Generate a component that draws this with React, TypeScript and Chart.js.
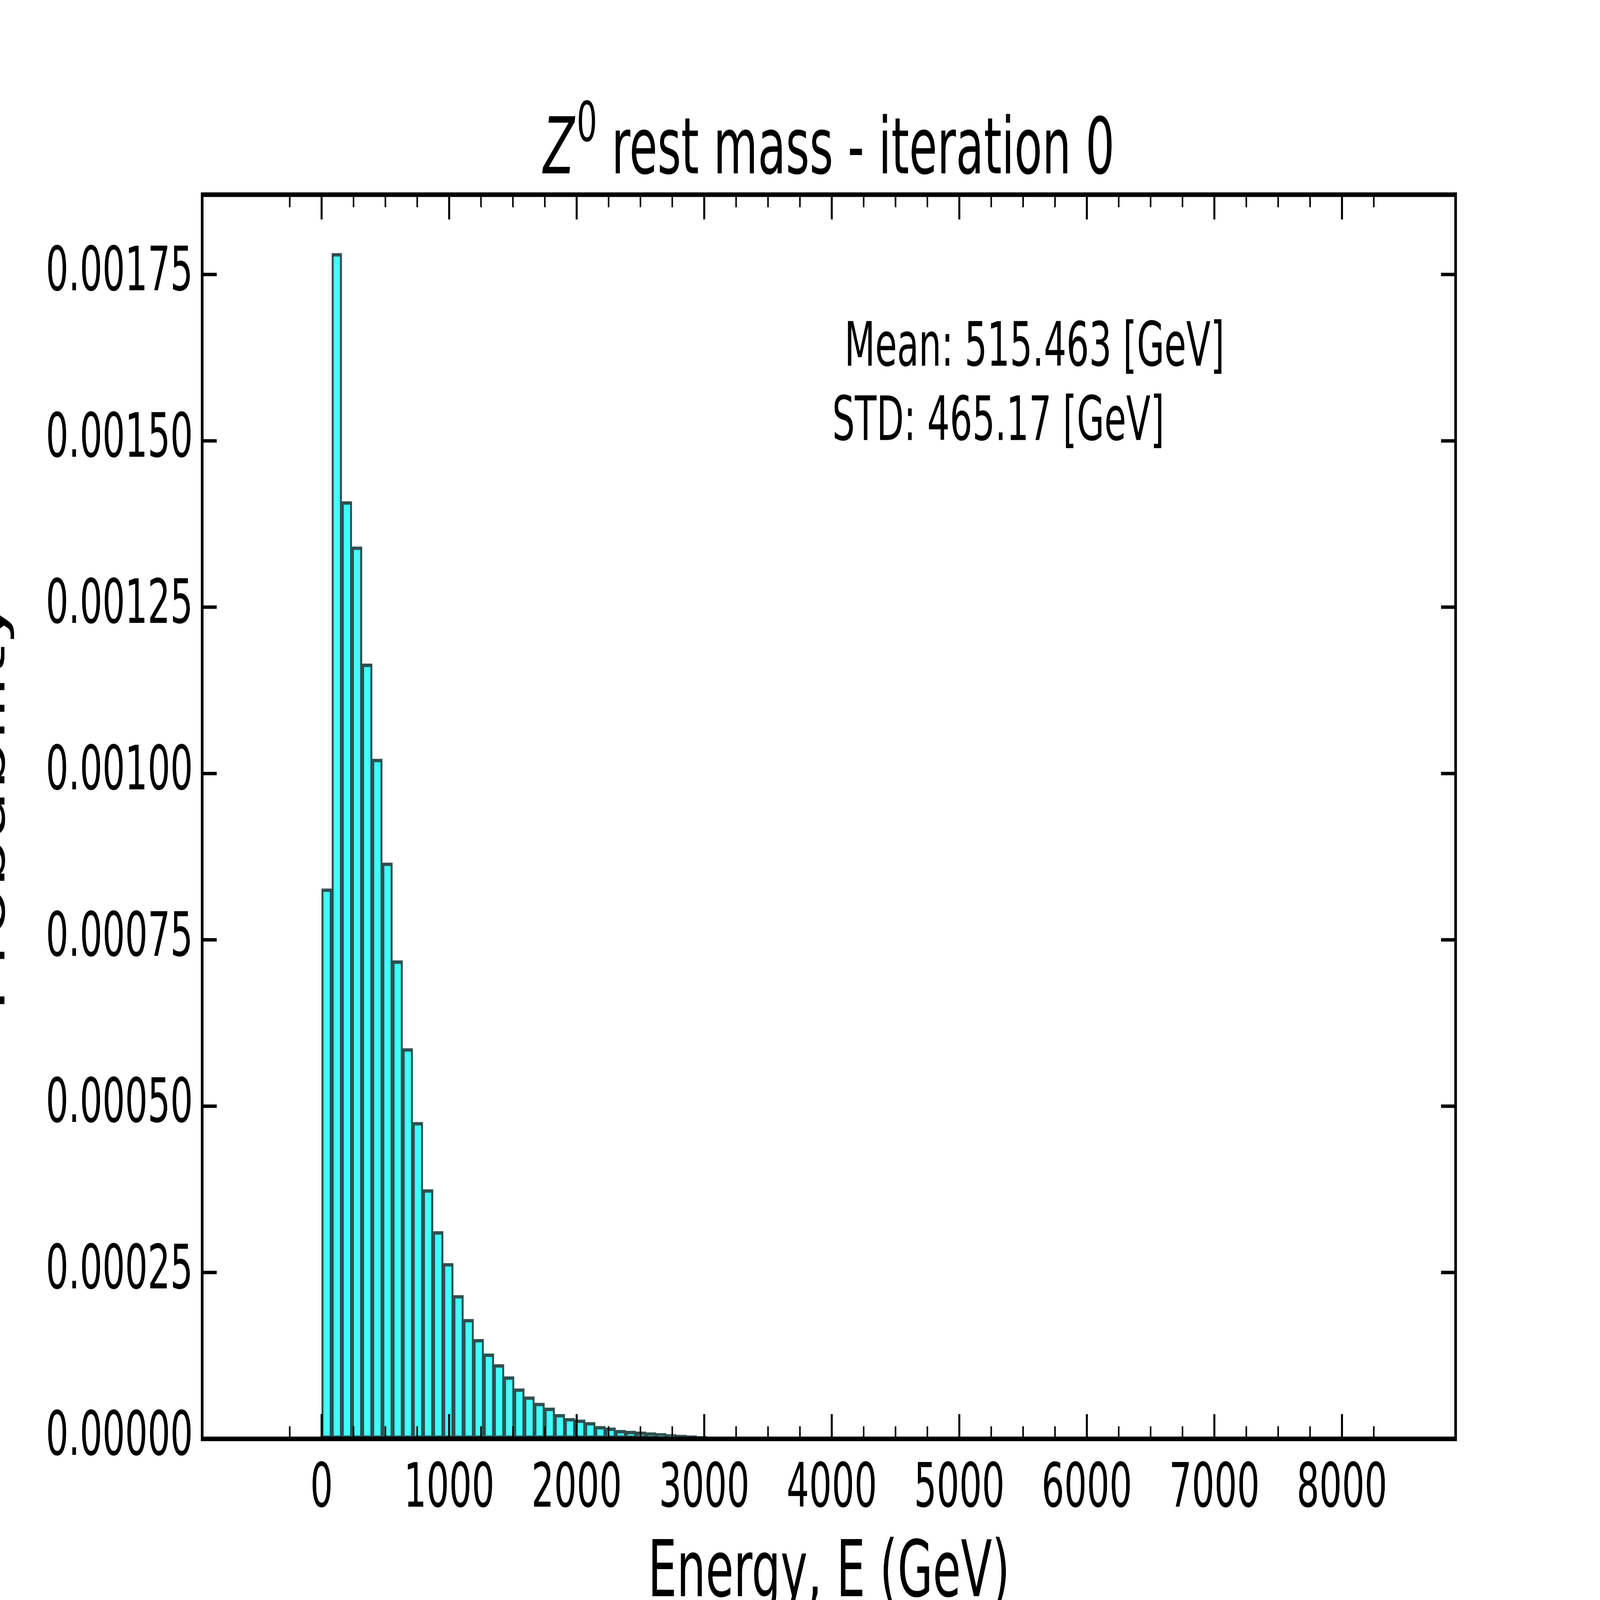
import { useEffect, useRef } from "react";
import { Chart, registerables } from "chart.js";

Chart.register(...registerables);

const binWidth = 79.5;
const probabilities = [
  0.000827, 0.001782, 0.001409, 0.001341, 0.001165, 0.001022, 0.000866, 0.000719,
  0.000587, 0.000476, 0.000375, 0.000312, 0.000264, 0.000216, 0.00018, 0.00015,
  0.000128, 0.000112, 0.0000937, 0.0000757, 0.0000636, 0.000054, 0.0000468, 0.0000372,
  0.0000312, 0.0000288, 0.0000252, 0.0000192, 0.0000168, 0.0000132, 0.000012, 0.0000108,
  0.0000096, 0.0000084, 0.000007, 0.000006, 0.000005, 0.000004, 0.000003, 0.000002,
  0.000002, 0.000001, 0.000001, 0.000001,
];
const xTicks = [0, 1000, 2000, 3000, 4000, 5000, 6000, 7000, 8000];
const xMinorTicks = [-250, 250, 500, 750, 1250, 1500, 1750, 2250, 2500, 2750, 3250, 3500, 3750, 4250, 4500, 4750, 5250, 5500, 5750, 6250, 6500, 6750, 7250, 7500, 7750, 8250];
const yTicks = [0, 0.00025, 0.0005, 0.00075, 0.001, 0.00125, 0.0015, 0.00175];
const statLines = ["Mean: 515.463 [GeV]", "STD: 465.17 [GeV]"];

const FONT = "'DejaVu Sans', sans-serif";

const framePlugin = {
  id: "frame",
  afterDraw(chart: any) {
    const { ctx, chartArea: a, scales } = chart;
    const x = scales.x;
    const y = scales.y;
    ctx.save();
    ctx.strokeStyle = "#000";
    // ticks pointing inward on all sides
    const tick = (len: number, w: number, vals: number[], axis: "x" | "y") => {
      ctx.lineWidth = w;
      ctx.beginPath();
      vals.forEach((v) => {
        if (axis === "x") {
          const p = x.getPixelForValue(v);
          ctx.moveTo(p, a.bottom);
          ctx.lineTo(p, a.bottom - len);
          ctx.moveTo(p, a.top);
          ctx.lineTo(p, a.top + len);
        } else {
          const p = y.getPixelForValue(v);
          ctx.moveTo(a.left, p);
          ctx.lineTo(a.left + len, p);
          ctx.moveTo(a.right, p);
          ctx.lineTo(a.right - len, p);
        }
      });
      ctx.stroke();
    };
    tick(65, 9, xTicks, "x");
    tick(33, 7, xMinorTicks, "x");
    tick(65, 9, yTicks, "y");
    ctx.lineWidth = 12;
    ctx.strokeRect(a.left, a.top, a.right - a.left, a.bottom - a.top);

    ctx.fillStyle = "#000";
    ctx.textBaseline = "alphabetic";
    // title
    ctx.textAlign = "left";
    const rest = " rest mass - iteration 0";
    ctx.font = `205px ${FONT}`;
    const wRest = ctx.measureText(rest).width;
    ctx.font = `italic 205px ${FONT}`;
    const wZ = ctx.measureText("Z").width;
    ctx.font = `145px ${FONT}`;
    const wSup = ctx.measureText("0").width;
    const total = wZ + 10 + wSup + wRest;
    let tx = (a.left + a.right) / 2 - total / 2;
    const ty = 455;
    ctx.font = `italic 205px ${FONT}`;
    ctx.fillText("Z", tx, ty);
    tx += wZ + 10;
    ctx.font = `145px ${FONT}`;
    ctx.fillText("0", tx, ty - 85);
    tx += wSup;
    ctx.font = `205px ${FONT}`;
    ctx.fillText(rest, tx, ty);

    // stats
    ctx.font = `160px ${FONT}`;
    ctx.fillText(statLines[0], 3800, 960);
    ctx.fillText(statLines[1], 3745, 1155);

    // x label
    ctx.textAlign = "center";
    ctx.font = `205px ${FONT}`;
    ctx.fillText("Energy, E (GeV)", (a.left + a.right) / 2, 4190);

    // y label (partly off the left edge)
    ctx.translate(20, (a.top + a.bottom) / 2 - 30);
    ctx.rotate(-Math.PI / 2);
    ctx.fillText("Probability", 0, 0);
    ctx.restore();
  },
};

export default function App() {
  const canvasRef = useRef<HTMLCanvasElement | null>(null);

  useEffect(() => {
    document.body.style.margin = "0";
    document.body.style.overflow = "hidden";
    if (!canvasRef.current) return;
    const chart = new Chart(canvasRef.current, {
      type: "bar",
      data: {
        datasets: [
          {
            data: probabilities.map((p, i) => ({ x: (i + 0.5) * binWidth, y: p })),
            backgroundColor: "#40ffff",
            borderColor: "#2f4f4f",
            borderWidth: 9,
            barPercentage: 1,
            categoryPercentage: 1,
            borderSkipped: false,
          },
        ],
      },
      options: {
        responsive: false,
        animation: false,
        devicePixelRatio: 1,
        layout: { padding: { left: 0, top: 511, right: 650, bottom: 0 } },
        plugins: { legend: { display: false }, tooltip: { enabled: false } },
        scales: {
          x: {
            type: "linear",
            min: -390,
            max: 8345,
            grid: { display: false, drawTicks: false },
            border: { display: false },
            afterBuildTicks: (s: any) => {
              s.ticks = xTicks.map((v) => ({ value: v }));
            },
            afterFit: (s: any) => {
              s.height = 423;
            },
            ticks: {
              padding: 40,
              color: "#000",
              font: { family: FONT, size: 160 },
              autoSkip: false,
              maxRotation: 0,
              callback: (v: any) => String(v),
            },
          },
          y: {
            min: 0,
            max: 0.00187,
            grid: { display: false, drawTicks: false },
            border: { display: false },
            afterBuildTicks: (s: any) => {
              s.ticks = yTicks.map((v) => ({ value: v }));
            },
            afterFit: (s: any) => {
              s.width = 910;
            },
            ticks: {
              padding: 42,
              color: "#000",
              font: { family: FONT, size: 160 },
              callback: (v: any) => Number(v).toFixed(5),
            },
          },
        },
      },
      plugins: [framePlugin],
    });
    return () => chart.destroy();
  }, []);

  return (
    <canvas
      ref={canvasRef}
      width={7200}
      height={4200}
      style={{ display: "block", width: "100vw", height: "100vh" }}
    />
  );
}
